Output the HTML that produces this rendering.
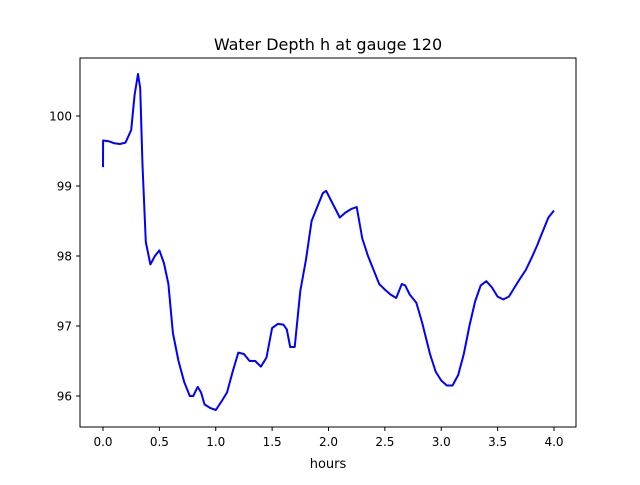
<!DOCTYPE html>
<html><head><meta charset="utf-8"><style>
body{margin:0;background:#fff;}
svg text{font-family:"DejaVu Sans","Liberation Sans",sans-serif;fill:#000;}
</style></head><body>
<svg width="640" height="480" viewBox="0 0 640 480">
<rect width="640" height="480" fill="#fff"/>
<text x="328" y="50" font-size="16" text-anchor="middle">Water Depth h at gauge 120</text>
<g id="ticks"></g>
<path id="line" fill="none" stroke="#0000ff" stroke-width="2" stroke-linejoin="round"/>
<rect x="80" y="58" width="496" height="369" fill="none" stroke="#000" stroke-width="1"/>
<text x="328" y="468" font-size="13" text-anchor="middle">hours</text>
</svg>
<script>
const times=[0,0.001,0.05,0.1,0.15,0.2,0.25,0.28,0.31,0.33,0.35,0.38,0.42,0.46,0.5,0.54,0.58,0.62,0.67,0.72,0.77,0.8,0.84,0.87,0.9,0.95,1.0,1.05,1.1,1.15,1.2,1.25,1.3,1.35,1.4,1.45,1.5,1.55,1.6,1.63,1.66,1.7,1.75,1.8,1.85,1.9,1.95,1.98,2.02,2.1,2.15,2.2,2.25,2.3,2.35,2.4,2.45,2.5,2.55,2.6,2.65,2.68,2.72,2.78,2.83,2.9,2.95,3.0,3.05,3.1,3.15,3.2,3.25,3.3,3.35,3.4,3.45,3.5,3.55,3.6,3.65,3.7,3.75,3.8,3.85,3.9,3.95,4.0];
const depths=[99.27,99.65,99.64,99.61,99.6,99.62,99.8,100.3,100.6,100.4,99.3,98.2,97.88,98.0,98.08,97.9,97.6,96.9,96.5,96.2,96.0,96.0,96.13,96.05,95.88,95.83,95.8,95.92,96.05,96.35,96.62,96.6,96.5,96.5,96.42,96.55,96.97,97.03,97.02,96.95,96.7,96.7,97.5,97.95,98.5,98.7,98.9,98.93,98.8,98.55,98.62,98.67,98.7,98.25,98.0,97.8,97.6,97.52,97.45,97.4,97.6,97.58,97.45,97.33,97.05,96.6,96.35,96.22,96.15,96.15,96.3,96.6,97.0,97.35,97.58,97.64,97.55,97.42,97.38,97.42,97.55,97.68,97.8,97.97,98.15,98.35,98.55,98.65];
const xTicks=[0,0.5,1,1.5,2,2.5,3,3.5,4];
const xTickLabels=["0.0","0.5","1.0","1.5","2.0","2.5","3.0","3.5","4.0"];
const yTicks=[96,97,98,99,100];
const yTickLabels=["96","97","98","99","100"];
const X=t=>103+t*112.75;
const Y=h=>116+(100-h)*70;
const ns="http://www.w3.org/2000/svg";
const g=document.getElementById('ticks');
xTicks.forEach((t,i)=>{
  const l=document.createElementNS(ns,'line');
  l.setAttribute('x1',X(t));l.setAttribute('x2',X(t));l.setAttribute('y1',427);l.setAttribute('y2',431);l.setAttribute('stroke','#000');
  
  
  g.appendChild(l);
  const tx=document.createElementNS(ns,'text');
  tx.setAttribute('x',X(t));tx.setAttribute('y',446);tx.setAttribute('font-size','12');tx.setAttribute('text-anchor','middle');
  tx.textContent=xTickLabels[i];
  
  
  g.appendChild(tx);
});
yTicks.forEach((h,i)=>{
  const l=document.createElementNS(ns,'line');
  l.setAttribute('x1',76);l.setAttribute('x2',80);l.setAttribute('y1',Y(h));l.setAttribute('y2',Y(h));l.setAttribute('stroke','#000');
  
  
  g.appendChild(l);
  const tx=document.createElementNS(ns,'text');
  tx.setAttribute('x',72);tx.setAttribute('y',Y(h)+4.5);tx.setAttribute('font-size','12');tx.setAttribute('text-anchor','end');
  tx.textContent=yTickLabels[i];
  
  
  g.appendChild(tx);
});
document.getElementById('line').setAttribute('d',times.map((t,i)=>(i?'L':'M')+X(t).toFixed(1)+','+Y(depths[i]).toFixed(1)).join(''));
</script>
</body></html>
